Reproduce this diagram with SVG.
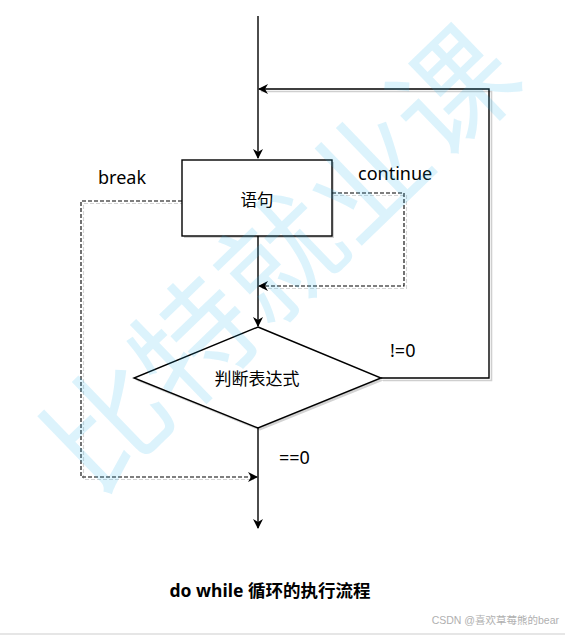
<svg xmlns="http://www.w3.org/2000/svg" width="565" height="636" viewBox="0 0 565 636">
<defs>
<marker id="ah" viewBox="0 0 10 10" refX="9" refY="5" markerWidth="10" markerHeight="10" markerUnits="userSpaceOnUse" orient="auto">
<path d="M0,0 L10,5 L0,10 L3,5 Z" fill="#000"/>
</marker>
</defs>
<style>
.ln{fill:none;stroke:#000;stroke-width:1.4}
.nd{fill:#fff;stroke:#000;stroke-width:1.4}
.dash{fill:none;stroke:#000;stroke-width:1.1;stroke-dasharray:4 2}
.sh{fill:none;stroke:#cfcfcf;stroke-width:1.6}
.shd{fill:none;stroke:#d4d4d4;stroke-width:1.1;stroke-dasharray:4 2}
.t{font-family:"Noto Sans","Noto Sans CJK SC",sans-serif;font-size:18px;fill:#000}
.c{font-family:"Noto Sans CJK SC",sans-serif;fill:#000}
.wm{font-family:"Noto Sans CJK SC",sans-serif;font-size:120px;fill:#27b4ee;fill-opacity:0.16}
</style>
<rect width="565" height="636" fill="#fff"/>
<g id="shadows">
<path class="sh" d="M261,91.5 H491.5 V380.5 H383"/>
<path class="shd" d="M334,195.5 H406.5 V288.5 H262"/>
<path class="shd" d="M184,203.5 H83.5 V479.5 H254"/>
<rect x="184" y="162" width="150" height="76" fill="#d3d3d3"/>
<path d="M260,329.5 L383.5,380.5 L260,430.5 L136,380.5 Z" fill="#d3d3d3"/>
</g>
<g id="connectors">
<path class="ln" d="M258,16 V158" marker-end="url(#ah)"/>
<path class="ln" d="M381,378 H489 V89 H259" marker-end="url(#ah)"/>
<path class="ln" d="M258,236 V326" marker-end="url(#ah)"/>
<path class="dash" d="M332,193 H404 V286 H259" marker-end="url(#ah)"/>
<path class="dash" d="M182,201 H81 V477 H257" marker-end="url(#ah)"/>
<path class="ln" d="M258,428 V528" marker-end="url(#ah)"/>
</g>
<g id="node-stmt">
<rect x="182" y="160" width="150" height="76" class="nd"/>
<text class="c" x="257" y="206" font-size="16.5" text-anchor="middle">语句</text>
</g>
<g id="node-cond">
<path d="M258,327 L381,378 L258,428 L134,378 Z" class="nd"/>
<text class="c" x="257" y="385" font-size="17" text-anchor="middle">判断表达式</text>
</g>
<g id="labels">
<text class="t" x="98" y="184">break</text>
<text class="t" x="358" y="180">continue</text>
<text class="t" x="390" y="357">!=0</text>
<text class="t" x="279" y="464">==0</text>
</g>
<text x="270" y="597" text-anchor="middle" font-family="'Noto Sans','Noto Sans CJK SC',sans-serif" font-size="17.5" font-weight="bold" fill="#000">do while 循环的执行流程</text>
<text class="wm" x="0" y="0" text-anchor="middle" transform="translate(311,290) rotate(-44)">比特就业课</text>
<text x="559" y="624" text-anchor="end" font-family="'Liberation Sans','Noto Sans CJK SC',sans-serif" font-size="10.5" fill="#b0b0b0">CSDN @喜欢草莓熊的bear</text>
<line x1="0" y1="634" x2="565" y2="634" stroke="#e6e6e6" stroke-width="2"/>
</svg>
